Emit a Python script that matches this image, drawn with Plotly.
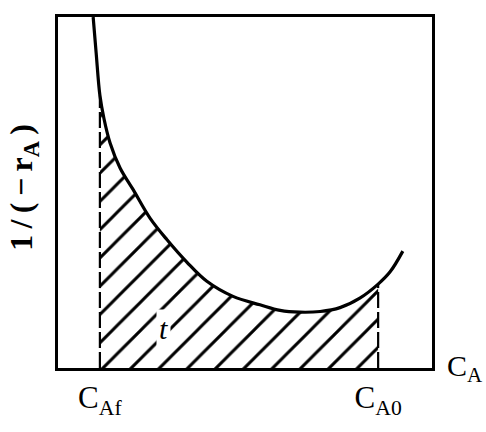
import numpy as np
import plotly.graph_objects as go

# Curve 1/(-rA) vs CA (arbitrary units)
curve_x = [0.94, 1.02, 1.12, 1.23, 1.39, 1.66, 2.01, 2.46, 2.91, 3.45, 3.98,
           4.68, 5.40, 5.94, 6.47, 7.01, 7.54, 8.07, 8.56, 8.88, 9.22]
curve_y = [10.0, 8.98, 7.77, 7.10, 6.42, 5.70, 5.08, 4.27, 3.66, 3.01, 2.47,
           2.04, 1.80, 1.64, 1.59, 1.61, 1.72, 1.99, 2.39, 2.74, 3.33]

c_af = 1.12
c_a0 = 8.56
tick_vals = [c_af, c_a0]
tick_text = ["C<sub>Af</sub>", "C<sub>A0</sub>"]
area_label = "t"

cx = np.array(curve_x)
cy = np.array(curve_y)
mask = (cx >= c_af) & (cx <= c_a0)
fill_x = cx[mask]
fill_y = cy[mask]
y_af = float(np.interp(c_af, cx, cy))
y_a0 = float(np.interp(c_a0, cx, cy))

FONT = "Liberation Serif"

fig = go.Figure()

# hatched area
fig.add_trace(go.Scatter(
    x=fill_x, y=fill_y, mode="lines", line=dict(width=0, shape="spline"),
    fill="tozeroy", fillcolor="white",
    fillpattern=dict(shape="/", size=20, solidity=0.15,
                     fgcolor="black", bgcolor="white", fgopacity=1),
    hoverinfo="skip", showlegend=False))

# dashed boundaries
for xv, yv in [(c_af, y_af), (c_a0, y_a0)]:
    fig.add_trace(go.Scatter(
        x=[xv, xv], y=[0, yv], mode="lines",
        line=dict(color="black", width=2.2, dash="16px,4px"),
        hoverinfo="skip", showlegend=False))

# curve
fig.add_trace(go.Scatter(
    x=curve_x, y=curve_y, mode="lines",
    line=dict(color="black", width=3.2, shape="spline"),
    hoverinfo="skip", showlegend=False))

fig.add_annotation(x=2.81, y=1.13, xref="x", yref="y",
                   text="<i>" + area_label + "</i>",
                   xanchor="center", yanchor="middle",
                   showarrow=False, bgcolor="white", borderpad=2,
                   font=dict(family=FONT, size=30, color="black"))

fig.add_annotation(x=-0.091, y=0.516, xref="paper", yref="paper",
                   xanchor="center", yanchor="middle",
                   text="<b>1\u2009/\u2009(\u2009−\u2009r<sub>A</sub>\u2009)</b>",
                   textangle=-90, showarrow=False,
                   font=dict(family=FONT, size=32, color="black"))

fig.add_annotation(x=1.088, y=0.0, xref="paper", yref="paper",
                   xanchor="center", yanchor="middle",
                   text="C<sub>A</sub>", showarrow=False,
                   font=dict(family=FONT, size=30, color="black"))

fig.update_xaxes(range=[0, 10], showgrid=False, zeroline=False,
                 showline=True, mirror=True, linecolor="black", linewidth=3,
                 tickvals=tick_vals, ticktext=tick_text, ticks="",
                 tickfont=dict(family=FONT, size=31, color="black"))
fig.update_yaxes(range=[0, 10], showgrid=False, zeroline=False,
                 showline=True, mirror=True, linecolor="black", linewidth=3,
                 showticklabels=False, ticks="")

fig.update_layout(width=486, height=432,
                  margin=dict(l=58, r=54, t=17, b=43),
                  paper_bgcolor="white", plot_bgcolor="white",
                  hovermode=False)

# remove the browser's default body margin so the figure sits at (0, 0)
fig.write_html("out.html",
               config={"displayModeBar": False, "staticPlot": True},
               post_script="document.body.style.margin='0';"
                           "document.body.style.overflow='hidden';")
